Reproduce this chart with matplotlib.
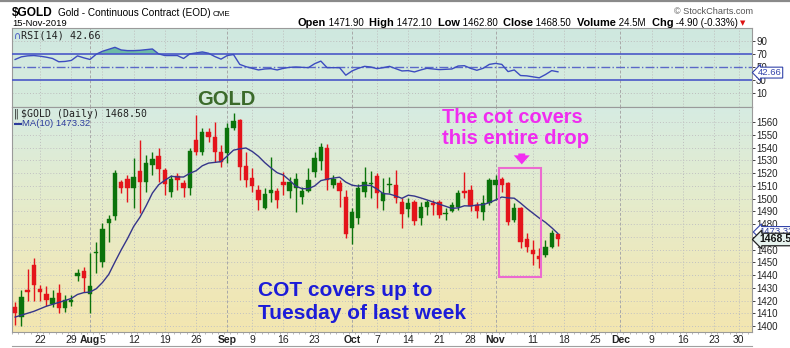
import numpy as np
import pandas as pd
import matplotlib
matplotlib.use("Agg")
import matplotlib.pyplot as plt
from matplotlib.colors import LinearSegmentedColormap
from matplotlib.patches import Rectangle
from matplotlib.lines import Line2D

plt.rcParams['font.family'] = ['Liberation Sans', 'DejaVu Sans']
W, H = 790, 348

# ---------------- data ----------------
start_date = '2019-07-16'
end_date = '2019-12-31'
holidays = ['2019-09-02', '2019-11-28', '2019-12-25']

opens = [1415, 1407, 1428, 1448, 1429, 1425, 1417, 1426, 1414, 1419,
         1439, 1443, 1424.8, 1457, 1450.5, 1480.5, 1486.5, 1512.7, 1515.3, 1508,
         1521.6, 1512.7, 1526.3, 1533.6, 1522.4, 1505.4, 1517.9, 1512.2, 1508.5, 1545.9,
         1536.7, 1551.9, 1548.5, 1536.2, 1535.4, 1555.6, 1561.6, 1525.5, 1516.3, 1506.7,
         1492.8, 1504, 1505.9, 1512.7, 1505.9, 1508.5, 1501.4, 1505.9, 1521, 1529.4,
         1539.9, 1510.6, 1511.9, 1501.4, 1477.1, 1484.4, 1504.8, 1511.1, 1517.9, 1498,
         1510.6, 1510.6, 1497.5, 1491.8, 1497.5, 1484.4, 1493.6, 1496.2, 1497.5, 1487.6,
         1490.2, 1493.6, 1505.9, 1506.7, 1494.9, 1489.1, 1496.2, 1510.6, 1515.3, 1511.9,
         1483.1, 1492.3, 1468.2, 1459.6, 1455.2, 1455.7, 1462.2, 1471.9]
highs = [1419, 1428, 1445, 1453, 1432, 1431, 1428, 1433, 1424, 1424,
         1445, 1446.5, 1457, 1466, 1480.5, 1487, 1522.4, 1514.5, 1518.4, 1531.5,
         1545.9, 1534, 1536.7, 1539.3, 1524, 1518.4, 1519.7, 1514.5, 1539.9, 1565.5,
         1555, 1555, 1560.3, 1542, 1559, 1566.8, 1562, 1536.7, 1523.7, 1510.6,
         1508, 1532.8, 1508, 1521, 1517.1, 1519.7, 1509.3, 1523.7, 1536.7, 1543.3,
         1542.5, 1518.4, 1514.5, 1506.7, 1492.8, 1511.1, 1525, 1521.6, 1519.7, 1515.8,
         1517.1, 1522.4, 1500.1, 1500.1, 1498.8, 1497.5, 1498.8, 1498.8, 1498.8, 1492.3,
         1497.5, 1506.7, 1521, 1510.6, 1497.5, 1502.7, 1516.3, 1518.4, 1517.1, 1512.7,
         1496.2, 1493.6, 1472.7, 1467.5, 1460.9, 1467.5, 1475.3, 1472.1]
lows = [1401, 1400, 1420, 1420, 1420, 1416, 1415, 1410, 1411, 1416,
        1435, 1427, 1410, 1441.3, 1446.5, 1466, 1483, 1504, 1497.5, 1492.3,
        1488.4, 1505, 1518.4, 1513.2, 1502.7, 1501.4, 1506.7, 1501.4, 1502.7, 1534.1,
        1534.1, 1544.6, 1528.9, 1525, 1527.6, 1553.7, 1514.5, 1509.3, 1504.8, 1491,
        1491.8, 1497.5, 1492.3, 1502.7, 1500.1, 1489.7, 1495.4, 1504.8, 1517.1, 1522.4,
        1506.7, 1508, 1493.6, 1469.3, 1464, 1479.7, 1501.4, 1500.1, 1492.3, 1491,
        1504, 1496.2, 1477.1, 1485.8, 1479.2, 1479.2, 1487.1, 1487.1, 1484.4, 1483.1,
        1489.7, 1491, 1500.1, 1490.2, 1484.4, 1483.1, 1494.9, 1498.8, 1505.4, 1479.2,
        1481.8, 1460.9, 1458.3, 1447.8, 1445.2, 1454.4, 1460.9, 1462.8]
closes = [1410, 1423, 1427, 1432, 1427, 1420.4, 1422, 1413.9, 1420.4, 1420.5,
          1441.3, 1437.4, 1431.4, 1458, 1476, 1483.7, 1519.7, 1508.5, 1508, 1517.1,
          1513.2, 1527.6, 1531, 1523.1, 1511.1, 1515.3, 1514.5, 1508, 1537.3, 1536.7,
          1552.4, 1548.5, 1536.7, 1528.9, 1555.6, 1560.8, 1525, 1514.5, 1510.1, 1498.8,
          1503.3, 1506.7, 1498.8, 1510.6, 1513.2, 1515.3, 1505.9, 1514.5, 1531.5, 1540.7,
          1514.5, 1515.3, 1505.9, 1471.9, 1489.1, 1508, 1513.2, 1511.9, 1504, 1504.5,
          1511.4, 1500.1, 1487.6, 1496.2, 1482.4, 1493.6, 1497.5, 1494.9, 1487.1, 1488.4,
          1494.9, 1504, 1504, 1494.4, 1490.2, 1496.2, 1514.5, 1514.5, 1510.6, 1481.8,
          1492.3, 1466.1, 1462.2, 1456.2, 1452.5, 1462.2, 1472.7, 1468.5]
rsi14 = [61.5, 65.5, 67, 67.5, 66.5, 65, 63, 58, 58.5, 60,
         67, 64, 61.5, 69.5, 74, 77, 80, 76, 75, 75,
         75.5, 76.5, 77.5, 70, 67.5, 67.5, 67.5, 63, 70, 71.5,
         73, 71, 66, 62, 67.5, 69, 54, 50.5, 48, 45.5,
         47, 47.5, 45.5, 48, 49.5, 50, 49.5, 49, 55, 59,
         49, 49, 49, 37.5, 44, 48, 51, 50, 47.5, 49,
         51, 47.5, 44, 44.5, 42.5, 45.5, 48, 47, 46, 46.5,
         47, 51.5, 52, 48, 45, 48, 54, 55.5, 54, 43,
         45.5, 37, 36.5, 35, 33.5, 38.5, 44.5, 42.66]
ma_head = [1407, 1408.5, 1410, 1411.5, 1413.5, 1415.5, 1417, 1418.5, 1420]

tick_dates = ['2019-07-22', '2019-07-29', '2019-08-01', '2019-08-05', '2019-08-12',
              '2019-08-19', '2019-08-26', '2019-09-03', '2019-09-09', '2019-09-16',
              '2019-09-23', '2019-10-01', '2019-10-07', '2019-10-14', '2019-10-21',
              '2019-10-28', '2019-11-01', '2019-11-11', '2019-11-18', '2019-11-25',
              '2019-12-02', '2019-12-09', '2019-12-16', '2019-12-23', '2019-12-30']
tick_labels = ['22', '29', 'Aug', '5', '12', '19', '26', 'Sep', '9', '16', '23', 'Oct',
               '7', '14', '21', '28', 'Nov', '11', '18', '25', 'Dec', '9', '16', '23', '30']
month_labels = ['Aug', 'Sep', 'Oct', 'Nov', 'Dec']
price_ticks = list(range(1400, 1561, 10))
rsi_ticks = [10, 30, 50, 70, 90]

# ---------------- setup ----------------
cbd = pd.offsets.CustomBusinessDay(holidays=holidays)
days = pd.date_range(start_date, end_date, freq=cbd)
pos = {d.strftime('%Y-%m-%d'): i for i, d in enumerate(days)}
tick_pos = [pos[d] for d in tick_dates]

o = np.array(opens, float); h = np.array(highs, float)
l = np.array(lows, float); c = np.array(closes, float)
n = len(c)
x = np.arange(n)
rsi = np.array(rsi14, float)
ma = pd.Series(c).rolling(10).mean().to_numpy()
ma[:len(ma_head)] = ma_head

GREEN = '#0b730b'
RED = '#e4141b'
XLIM = (-0.5, 118.1)

fig = plt.figure(figsize=(W / 100, H / 100), dpi=100)
fig.patch.set_facecolor('white')


def px_ax(left, top, right, bottom):
    return fig.add_axes([left / W, 1 - bottom / H, (right - left) / W, (bottom - top) / H])


def gradient(ax, colors):
    cmap = LinearSegmentedColormap.from_list('g', colors)
    ax.imshow(np.linspace(0, 1, 256).reshape(-1, 1), cmap=cmap, aspect='auto',
              extent=[0, 1, 0, 1], transform=ax.transAxes, zorder=-5,
              interpolation='bilinear')


def style_spines(ax):
    for s in ax.spines.values():
        s.set_color('#9a9a9a')
        s.set_linewidth(0.8)


def vgrid(ax):
    for p, lab in zip(tick_pos, tick_labels):
        if lab in month_labels:
            ax.axvline(p, color='#a8a8a8', lw=0.7, ls=(0, (3, 2)), zorder=1)
        else:
            ax.axvline(p, color='#bdbdbd', lw=0.7, ls=(0, (1, 2)), zorder=1)


ax_rsi = px_ax(12, 28, 752, 107)
ax = px_ax(12, 107, 752, 332)

# ---------------- RSI panel ----------------
gradient(ax_rsi, ['#cfe8e0', '#d3eadf', '#d6ebdb'])
vgrid(ax_rsi)
for yv in [10, 90]:
    ax_rsi.axhline(yv, color='#bdbdbd', lw=0.7, ls=(0, (1, 2)), zorder=1)
ax_rsi.fill_between(x, rsi, 70, where=rsi > 70, interpolate=True,
                    color='#6dbaa6', zorder=2, lw=0)
ax_rsi.axhline(70, color='#4a58c8', lw=1.2, zorder=3)
ax_rsi.axhline(30, color='#4a58c8', lw=1.2, zorder=3)
ax_rsi.axhline(50, color='#5a68c8', lw=1.0, ls='-.', zorder=3)
ax_rsi.plot(x, rsi, color='#3c4cc0', lw=1.0, zorder=4)
ax_rsi.set_xlim(*XLIM)
ax_rsi.set_ylim(-11, 109.5)
ax_rsi.set_xticks([])
ax_rsi.yaxis.tick_right()
ax_rsi.set_yticks(rsi_ticks)
ax_rsi.set_yticklabels([str(v) for v in rsi_ticks])
ax_rsi.tick_params(axis='y', length=2, width=0.6, pad=1, labelsize=7, colors='#222222')
style_spines(ax_rsi)

# ---------------- price panel ----------------
gradient(ax, ['#d6ebe2', '#e2ecd0', '#ece9bf', '#f3e6b0'])
vgrid(ax)
for yv in price_ticks:
    ax.axhline(yv, color='#c2c2c2', lw=0.7, ls=(0, (1, 2)), zorder=1)

up = c >= o
col = np.where(up, GREEN, RED)
ax.vlines(x, l, h, colors=col, lw=1.0, zorder=3)
body = np.maximum(np.abs(c - o), 0.8)
ax.bar(x, body, bottom=np.minimum(o, c), width=0.7, color=col, edgecolor=col,
       lw=0.3, zorder=4)
ax.plot(x, ma, color='#35358a', lw=1.0, zorder=5)

# box around the drop
ax.add_patch(Rectangle((77.5, 1438.4), 84.3 - 77.5, 1523.9 - 1438.4, fill=False,
                       ec='#ec6ad0', lw=1.5, zorder=6))
ax.annotate('', xy=(81.2, 1524.6), xytext=(81.2, 1537.5),
            arrowprops=dict(arrowstyle='simple,head_width=1.15,head_length=0.65,tail_width=0.5',
                            color='#f22ef0', lw=0, mutation_scale=10), zorder=7)

ax.set_xlim(*XLIM)
ax.set_ylim(1395.3, 1571.8)
ax.yaxis.tick_right()
ax.set_yticks(price_ticks)
ax.set_yticklabels(['' if v == 1470 else str(v) for v in price_ticks])
ax.tick_params(axis='y', length=2, width=0.6, pad=1, labelsize=7, colors='#222222')
ax.set_xticks(tick_pos)
ax.set_xticklabels(tick_labels)
ax.tick_params(axis='x', length=0, pad=2.5, labelsize=7.5, colors='#222222')
for t in ax.get_xticklabels():
    if t.get_text() in month_labels:
        t.set_fontweight('bold')
ax.set_xticks(np.arange(-0.5, 118.5, 1), minor=True)
ax.tick_params(axis='x', which='minor', length=1.5, width=0.5, color='#9a9a9a')
style_spines(ax)


# ---------------- text helpers (pixel coords) ----------------
def ftxt(xp, yp, s, **kw):
    return fig.text(xp / W, 1 - yp / H, s, **kw)


renderer = fig.canvas.get_renderer()

# header
ftxt(12, 15.5, '$GOLD', fontsize=8.6, fontweight='bold', va='baseline')
ftxt(57.5, 15.5, 'Gold - Continuous Contract (EOD)', fontsize=7.2, va='baseline')
ftxt(213, 15.5, 'CME', fontsize=5.8, va='baseline')
ftxt(12, 26.5, '15-Nov-2019', fontsize=6.8, va='baseline')
ftxt(753, 13.5, '\u00a9 StockCharts.com', fontsize=6.6, color='#555555', va='baseline', ha='right')

pieces = [('Open', True), (' 1471.90', False), ('  High', True), (' 1472.10', False),
          ('  Low', True), (' 1462.80', False), ('  Close', True), (' 1468.50', False),
          ('  Volume', True), (' 24.5M', False), ('  Chg', True), (' -4.90 (-0.33%)', False)]
objs = []
xc = 0
for s, b in pieces:
    tt = ftxt(xc, 26.5, s, fontsize=7.9 if b else 7.0,
              fontweight='bold' if b else 'normal', va='baseline')
    bb = tt.get_window_extent(renderer)
    objs.append((tt, xc))
    xc += bb.width
shift = 738 - xc
for tt, x0 in objs:
    tt.set_position(((x0 + shift) / W, 1 - 26.5 / H))
ftxt(740, 25.5, '\u25bc', fontsize=5, color='#dd1111', va='baseline', ha='left',
     family='DejaVu Sans')

# panel legends
ftxt(14, 36.5, '\u2229', fontsize=7, color='#3c4cc0', va='center', family='DejaVu Sans')
ftxt(21, 35.5, 'RSI(14) 42.66', fontsize=7.3, family='DejaVu Sans Mono',
     va='center', color='#222222')
ftxt(14, 114, '\u2016', fontsize=7, color='#222222', va='center', family='DejaVu Sans')
ftxt(21, 114, '$GOLD (Daily) 1468.50', fontsize=7.1, family='DejaVu Sans Mono',
     va='center', color='#222222')
fig.add_artist(Line2D([15 / W, 21 / W], [1 - 124 / H, 1 - 124 / H], color='#2c3c9c', lw=1.5))
ftxt(22, 124, 'MA(10) 1473.32', fontsize=6.8, va='center', color='#2c3c9c')

# right tags
ftxt(758, 72.6, '42.66', fontsize=6.8, color='#3344aa', va='center', ha='left',
     bbox=dict(boxstyle='larrow,pad=0.1', fc='#ffffff', ec='#3344aa', lw=0.8))
ftxt(759, 232.0, '1473.32', fontsize=6.8, color='#2c3c9c', va='center', ha='left',
     bbox=dict(boxstyle='larrow,pad=0.1', fc='#ffffff', ec='#3344aa', lw=0.8))
ftxt(759, 239.5, '1468.50', fontsize=7.6, fontweight='bold', color='#111111',
     va='center', ha='left',
     bbox=dict(boxstyle='larrow,pad=0.12', fc='#e6f2ee', ec='#222222', lw=0.9))

# annotations
ftxt(226, 105, 'GOLD', fontsize=14.5, fontweight='bold', color='#3b6a2a',
     ha='center', va='baseline')
ftxt(442, 123, 'The cot covers', fontsize=14.4, fontweight='bold', color='#f02cf0',
     ha='left', va='baseline')
ftxt(442, 144, 'this entire drop', fontsize=14.6, fontweight='bold', color='#f02cf0',
     ha='left', va='baseline')
ftxt(258, 296, 'COT covers up to', fontsize=15, fontweight='bold', color='#1c1cd8',
     ha='left', va='baseline')
ftxt(258, 319, 'Tuesday of last week', fontsize=15, fontweight='bold', color='#1c1cd8',
     ha='left', va='baseline')

# frame lines
fig.add_artist(Line2D([0, 1], [1 - 0.8 / H, 1 - 0.8 / H], color='#8a8a8a', lw=1.6))
fig.add_artist(Line2D([12 / W, 752 / W], [1 - 346 / H, 1 - 346 / H], color='#a0a0a0', lw=0.8))

fig.savefig('out.png', dpi=100, facecolor='white')
